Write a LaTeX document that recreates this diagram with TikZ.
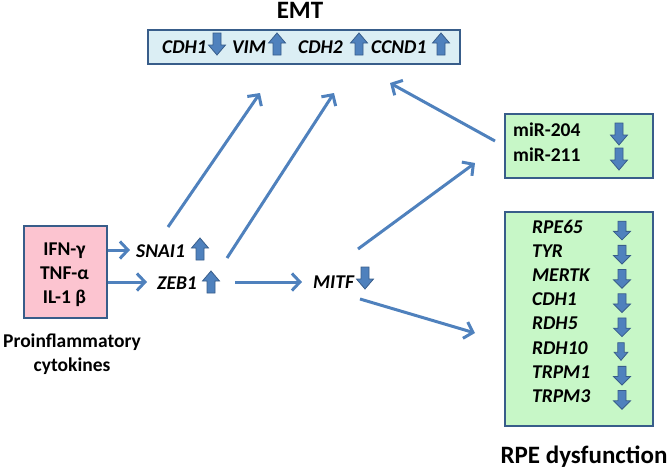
\documentclass[tikz,border=0pt]{standalone}
\usepackage{fontspec}
\setmainfont{Carlito}
\usetikzlibrary{arrows.meta}
\definecolor{arrblue}{RGB}{79,129,189}
\definecolor{edgeblue}{RGB}{56,93,138}
\definecolor{emtfill}{RGB}{219,238,244}
\definecolor{pinkfill}{RGB}{252,196,208}
\definecolor{greenfill}{RGB}{199,247,199}
\tikzset{
  conn/.style={draw=arrblue, line width=3pt, -{Straight Barb[length=8pt,width=17pt]}},
  boxstyle/.style={draw=edgeblue, line width=1.8pt, inner sep=0pt},
  gene/.style={font=\fontsize{19.5}{23}\selectfont\bfseries\itshape, anchor=base west, inner sep=0pt},
  lab/.style={font=\fontsize{19.5}{23}\selectfont\bfseries, inner sep=0pt},
  labw/.style={lab, anchor=base west},
  labc/.style={lab, anchor=base},
  ttl/.style={font=\fontsize{25}{30}\selectfont\bfseries, anchor=base, inner sep=0pt},
  blockarr/.style={fill=arrblue, draw=edgeblue, line width=0.8pt},
  uparr/.pic={\filldraw[blockarr] (-4,11) -- (-4,-1) -- (-8.5,-1) -- (0,-11) -- (8.5,-1) -- (4,-1) -- (4,11) -- cycle;},
  dnarr/.pic={\filldraw[blockarr] (-4,-11) -- (-4,1) -- (-8.5,1) -- (0,11) -- (8.5,1) -- (4,1) -- (4,-11) -- cycle;}
}
\begin{document}
\begin{tikzpicture}[x=1pt,y=-1pt]
\useasboundingbox (0,0) rectangle (672,472);

% ---- EMT box ----
\node[ttl] (emttitle) at (300,18) {EMT};
\node[boxstyle, fill=emtfill, anchor=north west, minimum width=312pt, minimum height=34pt] (emt) at (147,29) {};
\node[gene] (e1) at (162,53) {CDH1};
\pic at (217,44) {dnarr};
\node[gene] (e2) at (232,53) {VIM};
\pic at (277,44) {uparr};
\node[gene] (e3) at (298,53) {CDH2};
\pic at (359,44) {uparr};
\node[gene] (e4) at (371,53) {CCND1};
\pic at (441,44) {uparr};

% ---- cytokines ----
\node[boxstyle, fill=pinkfill, anchor=north west, minimum width=83pt, minimum height=92pt] (cyto) at (23,225) {};
\node[labc] (c1) at (64.5,255) {IFN-γ};
\node[labc] (c2) at (64.5,279) {TNF-α};
\node[labc] (c3) at (64.5,303) {IL-1 β};
\node[labc] (p1) at (72,347) {Proinflammatory};
\node[labc] (p2) at (72,371) {cytokines};

% ---- middle genes ----
\node[gene] (snai) at (136,257) {SNAI1};
\pic at (200,249) {uparr};
\node[gene] (zeb) at (157,289) {ZEB1};
\pic at (211,282) {uparr};
\node[gene] (mitf) at (313,288) {MITF};
\pic at (365,278) {dnarr};

% ---- miR box ----
\node[boxstyle, fill=greenfill, anchor=north west, minimum width=148pt, minimum height=64pt] (mir) at (504,113) {};
\node[labw] (m1) at (513,136) {miR-204};
\node[labw] (m2) at (513,161) {miR-211};
\pic at (619,134) {dnarr};
\pic at (619,159) {dnarr};

% ---- RPE box ----
\node[boxstyle, fill=greenfill, anchor=north west, minimum width=148pt, minimum height=214pt] (rpe) at (504,211) {};
\node[gene] (r1) at (532,233.0) {RPE65};
\node[gene] (r2) at (532,257.2) {TYR};
\node[gene] (r3) at (532,281.4) {MERTK};
\node[gene] (r4) at (532,305.6) {CDH1};
\node[gene] (r5) at (532,329.8) {RDH5};
\node[gene] (r6) at (532,354.0) {RDH10};
\node[gene] (r7) at (532,378.2) {TRPM1};
\node[gene] (r8) at (532,402.4) {TRPM3};
\pic[yscale=0.85] at (622,230.5) {dnarr};
\pic[yscale=0.85] at (622,254.7) {dnarr};
\pic[yscale=0.85] at (622,278.9) {dnarr};
\pic[yscale=0.85] at (622,303.1) {dnarr};
\pic[yscale=0.85] at (622,327.3) {dnarr};
\pic[scale=0.8] at (621,351.5) {dnarr};
\pic[yscale=0.85] at (622,375.7) {dnarr};
\pic[yscale=0.85] at (622,399.9) {dnarr};
\node[ttl] (rpetitle) at (584,463) {RPE dysfunction};

% ---- connector ends ----
\coordinate (t1) at (260,93);
\coordinate (t2) at (334,93);
\coordinate (t3) at (390,83);
\coordinate (s3) at (495,141);
\coordinate (s1) at (168,227);
\coordinate (s2) at (227,258);
\coordinate (s4) at (358,249);
\coordinate (t4) at (475,163);
\coordinate (s5) at (360,299);
\coordinate (t5) at (475,333);
\coordinate (s6) at (235,282);
\coordinate (t6) at (302,282);

% ---- connectors ----
\draw[conn] (cyto.east |- 0,250) -- (130,250);
\draw[conn] (cyto.east |- 0,282) -- (147,282);
\draw[conn] (s6) -- (t6);
\draw[conn] (s1) -- (t1);
\draw[conn] (s2) -- (t2);
\draw[conn] (s3) -- (t3);
\draw[conn] (s4) -- (t4);
\draw[conn] (s5) -- (t5);
\end{tikzpicture}
\end{document}
